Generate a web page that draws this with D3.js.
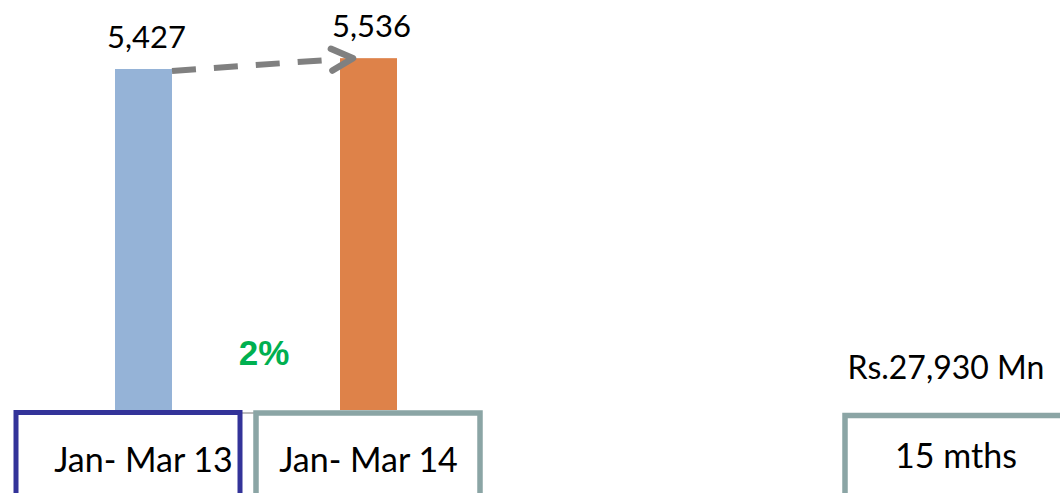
<!DOCTYPE html>
<html>
<head>
<meta charset="utf-8">
<script src="https://cdn.jsdelivr.net/npm/d3@7"></script>
<style>
  body { margin: 0; background: #fff; }
  svg { display: block; }
</style>
</head>
<body>
<svg width="1060" height="493"></svg>
<script>
// data
var categories = ["Jan- Mar 13", "Jan- Mar 14"];
var values = [5427, 5536];
var growthLabel = "2%";
var totalLabel = "Rs.27,930 Mn";
var totalPeriod = "15 mths";

var svg = d3.select("svg"),
    baseY = 410,
    font = "Lato, 'Open Sans', sans-serif";

var x = d3.scaleBand().domain(categories).range([25, 487])
    .paddingInner(0.7467).paddingOuter(0.4);
// axis in the original starts at 2,000
var y = d3.scaleLinear().domain([2000, 6000]).range([baseY, 12]);

var bw = x.bandwidth();
var colors = ["#95B3D7", "#DE8249"];

// thin baseline
svg.append("line")
    .attr("x1", x(categories[0])).attr("x2", x(categories[1]) + bw)
    .attr("y1", 413).attr("y2", 413)
    .attr("stroke", "#A6A6A6").attr("stroke-width", 1.5);

svg.selectAll(".bar")
    .data(values)
    .enter()
    .append("rect")
    .attr("class", "bar")
    .attr("x", function(d, i) { return x(categories[i]); })
    .attr("y", function(d) { return y(d); })
    .attr("width", bw)
    .attr("height", function(d) { return baseY - y(d); })
    .attr("fill", function(d, i) { return colors[i]; });

// value labels
svg.selectAll(".val")
    .data(values)
    .enter()
    .append("text")
    .attr("class", "val")
    .attr("x", function(d, i) { return x(categories[i]) + bw / 2 + 3; })
    .attr("y", function(d) { return y(d) - 21; })
    .attr("text-anchor", "middle")
    .attr("font-family", font)
    .attr("font-size", "31px")
    .attr("fill", "#000")
    .text(function(d) { return d3.format(",")(d); });

// dashed arrow between bar tops
var x0 = x(categories[0]) + bw, y0 = y(values[0]) + 2,
    x1 = x(categories[1]) + 13, y1 = y(values[1]);
var ang = Math.atan2(y0 - y1, x0 - x1), len = 24, spread = 27 * Math.PI / 180;

svg.append("line")
    .attr("x1", x0).attr("y1", y0)
    .attr("x2", x1 - 22).attr("y2", y1 + (y0 - y1) * 22 / (x1 - x0))
    .attr("stroke", "#808080").attr("stroke-width", 6)
    .attr("stroke-dasharray", "24,18");

svg.append("path")
    .attr("d", d3.line()([
        [x1 + len * Math.cos(ang - spread), y1 + len * Math.sin(ang - spread)],
        [x1, y1],
        [x1 + len * Math.cos(ang + spread), y1 + len * Math.sin(ang + spread)]
    ]))
    .attr("fill", "none")
    .attr("stroke", "#808080").attr("stroke-width", 6.5)
    .attr("stroke-linecap", "round").attr("stroke-linejoin", "round");

// growth
svg.append("text")
    .attr("x", (x(categories[0]) + x(categories[1]) + bw) / 2 + 8)
    .attr("y", 365)
    .attr("text-anchor", "middle")
    .attr("font-family", "'Liberation Sans', Arial, sans-serif")
    .attr("font-weight", "bold")
    .attr("font-size", "35px")
    .attr("fill", "#00B050")
    .text(growthLabel);

// category boxes
var boxes = [
    { x: 16, y: 412.5, w: 224, stroke: "#333399", sw: 5 },
    { x: 256, y: 413, w: 224, stroke: "#8BA5A5", sw: 5.5 },
    { x: 845, y: 415.5, w: 300, stroke: "#8BA5A5", sw: 5.5 }
];
svg.selectAll(".box")
    .data(boxes)
    .enter()
    .append("rect")
    .attr("class", "box")
    .attr("x", function(d) { return d.x; })
    .attr("y", function(d) { return d.y; })
    .attr("width", function(d) { return d.w; })
    .attr("height", 120)
    .attr("fill", "#fff")
    .attr("stroke", function(d) { return d.stroke; })
    .attr("stroke-width", function(d) { return d.sw; });

svg.selectAll(".cat")
    .data(categories)
    .enter()
    .append("text")
    .attr("class", "cat")
    .attr("x", function(d) { return x(d) + bw / 2; })
    .attr("y", 472)
    .attr("text-anchor", "middle")
    .attr("font-family", font)
    .attr("font-size", "34px")
    .text(function(d) { return d; });

svg.append("text")
    .attr("x", 946).attr("y", 379)
    .attr("text-anchor", "middle")
    .attr("font-family", font)
    .attr("font-size", "32px")
    .text(totalLabel);

svg.append("text")
    .attr("x", 956).attr("y", 468)
    .attr("text-anchor", "middle")
    .attr("font-family", font)
    .attr("font-size", "34px")
    .text(totalPeriod);
</script>
</body>
</html>
